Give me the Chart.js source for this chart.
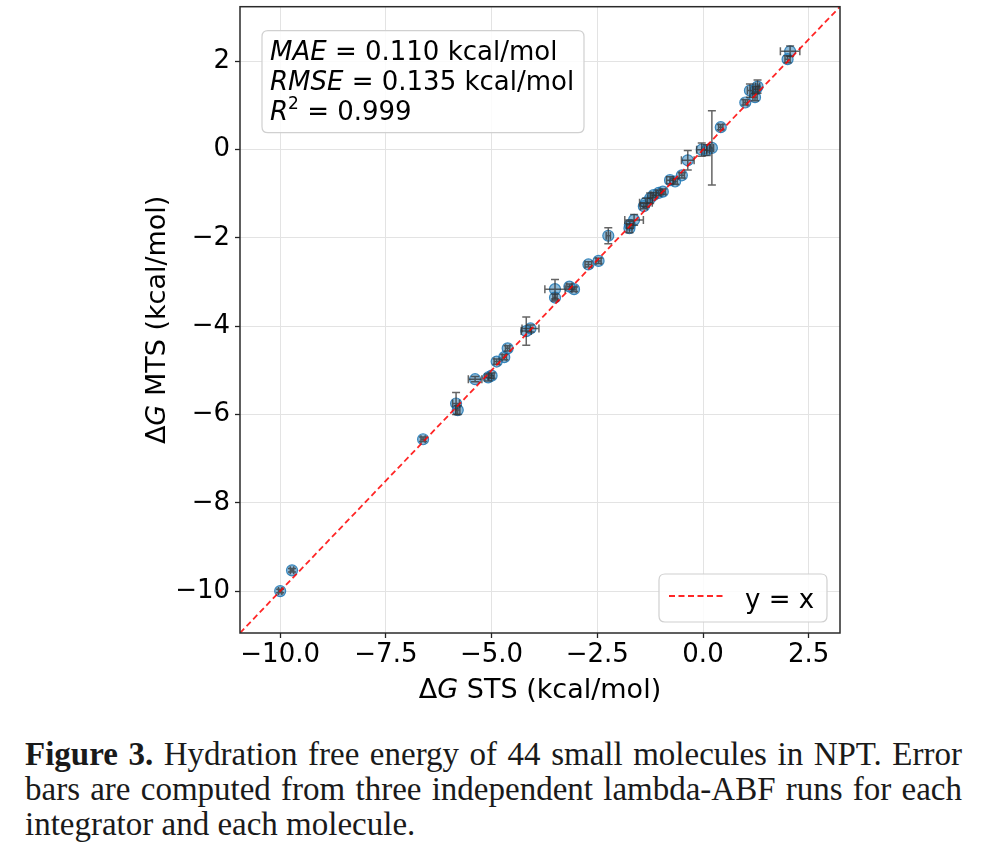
<!DOCTYPE html>
<html><head><meta charset="utf-8">
<script src="https://cdn.jsdelivr.net/npm/chart.js@4.4.0/dist/chart.umd.min.js"></script>
<style>
html,body{margin:0;padding:0;background:#fff;}
#wrap{position:absolute;left:0;top:0;width:989px;height:710px;}
#cap{position:absolute;left:25px;top:737px;width:960px;font-family:'Liberation Serif',serif;font-size:33px;line-height:35px;color:#1a1a1a;}
#cap div{white-space:nowrap;width:max-content;}
</style></head><body>
<div id="wrap"><canvas id="c"></canvas></div>
<div id="cap">
<div class="j"><b>Figure 3.</b> Hydration free energy of 44 small molecules in NPT. Error</div>
<div class="j">bars are computed from three independent lambda-ABF runs for each</div>
<div>integrator and each molecule.</div>
</div>
<script>
// ΔG STS (x) and ΔG MTS (y), kcal/mol, 44 molecules
const stsValues = [-10.00, -9.72, -6.62, -5.84, -5.80, -5.39, -5.08, -5.00, -4.88, -4.70, -4.62, -4.18, -4.08, -3.50, -3.50, -3.16, -3.05, -2.71, -2.47, -2.24, -1.74, -1.73, -1.63, -1.40, -1.35, -1.25, -1.17, -1.05, -0.95, -0.78, -0.66, -0.50, -0.36, -0.03, 0.09, 0.21, 0.42, 1.00, 1.11, 1.23, 1.25, 1.29, 2.00, 2.06];
const mtsValues = [-10.00, -9.53, -6.56, -5.75, -5.90, -5.20, -5.16, -5.12, -4.80, -4.70, -4.50, -4.11, -4.05, -3.16, -3.35, -3.10, -3.16, -2.60, -2.52, -1.95, -1.78, -1.70, -1.59, -1.28, -1.20, -1.10, -1.03, -0.98, -0.95, -0.69, -0.72, -0.58, -0.24, 0.00, -0.01, 0.04, 0.51, 1.07, 1.34, 1.19, 1.37, 1.43, 2.05, 2.23];
const stsErrors = [0.04, 0.04, 0.05, 0.08, 0.05, 0.16, 0.08, 0.06, 0.06, 0.05, 0.05, 0.12, 0.20, 0.24, 0.05, 0.06, 0.05, 0.08, 0.06, 0.05, 0.06, 0.08, 0.22, 0.08, 0.15, 0.06, 0.06, 0.06, 0.06, 0.08, 0.05, 0.06, 0.15, 0.12, 0.06, 0.04, 0.05, 0.05, 0.06, 0.05, 0.06, 0.05, 0.06, 0.23];
const mtsErrors = [0.04, 0.04, 0.05, 0.25, 0.10, 0.06, 0.08, 0.06, 0.06, 0.06, 0.06, 0.32, 0.08, 0.22, 0.08, 0.06, 0.05, 0.06, 0.06, 0.18, 0.10, 0.08, 0.12, 0.06, 0.10, 0.12, 0.06, 0.06, 0.06, 0.08, 0.06, 0.06, 0.22, 0.15, 0.12, 0.84, 0.06, 0.06, 0.15, 0.08, 0.06, 0.15, 0.08, 0.12];
const xTickValues = [-10, -7.5, -5, -2.5, 0, 2.5];
const yTickValues = [-10, -8, -6, -4, -2, 0, 2];
const axisLimits = [-10.95, 3.24];
const statLabels = ['MAE', 'RMSE', 'R'];
const statTexts = [' = 0.110 kcal/mol', ' = 0.135 kcal/mol', ' = 0.999'];
const refLabel = 'y = x';

// justify caption lines to the full text width
function fitCaption() {
  document.querySelectorAll('#cap .j').forEach(el => {
    el.style.wordSpacing = '0px';
    const w = el.getBoundingClientRect().width;
    const n = (el.textContent.trim().match(/\s+/g) || []).length;
    el.style.wordSpacing = ((937 - w) / n) + 'px';
  });
}
fitCaption();
if (document.fonts && document.fonts.ready) document.fonts.ready.then(fitCaption);

const FONT = "'DejaVu Sans', sans-serif";
const minus = s => s.replace('-', '\u2212');

function drawRich(ctx, parts, x, y, align, base) {
  let w = 0;
  const fs = p => (p.italic ? 'italic ' : '') + (p.size || base) + 'px ' + FONT;
  parts.forEach(p => { ctx.font = fs(p); p.w = ctx.measureText(p.t).width; w += p.w; });
  let cx = align === 'center' ? x - w / 2 : x;
  parts.forEach(p => { ctx.font = fs(p); ctx.fillText(p.t, cx, y + (p.dy || 0)); cx += p.w; });
}
function roundRect(ctx, x, y, w, h, r) {
  ctx.beginPath();
  ctx.moveTo(x + r, y); ctx.lineTo(x + w - r, y); ctx.quadraticCurveTo(x + w, y, x + w, y + r);
  ctx.lineTo(x + w, y + h - r); ctx.quadraticCurveTo(x + w, y + h, x + w - r, y + h);
  ctx.lineTo(x + r, y + h); ctx.quadraticCurveTo(x, y + h, x, y + h - r);
  ctx.lineTo(x, y + r); ctx.quadraticCurveTo(x, y, x + r, y); ctx.closePath();
}

const errorBarPlugin = {
  id: 'errorBars',
  afterDatasetDraw(chart, args) {
    if (args.index !== 0) return;
    const ctx = chart.ctx, xs = chart.scales.x, ys = chart.scales.y;
    ctx.save();
    ctx.strokeStyle = 'rgba(50,50,50,0.75)';
    ctx.lineWidth = 1.5;
    const c = 4;
    stsValues.forEach((v, i) => {
      const px = xs.getPixelForValue(v), py = ys.getPixelForValue(mtsValues[i]);
      const x0 = xs.getPixelForValue(v - stsErrors[i]), x1 = xs.getPixelForValue(v + stsErrors[i]);
      const y0 = ys.getPixelForValue(mtsValues[i] - mtsErrors[i]), y1 = ys.getPixelForValue(mtsValues[i] + mtsErrors[i]);
      ctx.beginPath();
      ctx.moveTo(x0, py); ctx.lineTo(x1, py);
      ctx.moveTo(px, y0); ctx.lineTo(px, y1);
      ctx.moveTo(x0, py - c); ctx.lineTo(x0, py + c);
      ctx.moveTo(x1, py - c); ctx.lineTo(x1, py + c);
      ctx.moveTo(px - c, y0); ctx.lineTo(px + c, y0);
      ctx.moveTo(px - c, y1); ctx.lineTo(px + c, y1);
      ctx.stroke();
    });
    ctx.restore();
  }
};

const decorPlugin = {
  id: 'decor',
  afterDraw(chart) {
    const ctx = chart.ctx, a = chart.chartArea;
    ctx.save();
    ctx.strokeStyle = '#2a2a2a'; ctx.lineWidth = 1.5;
    ctx.strokeRect(a.left, a.top, a.right - a.left, a.bottom - a.top);
    ctx.fillStyle = '#000';
    ctx.textBaseline = 'alphabetic';
    // axis titles
    drawRich(ctx, [{t: '\u0394'}, {t: 'G', italic: true}, {t: ' STS (kcal/mol)'}], (a.left + a.right) / 2, 698, 'center', 27);
    ctx.save();
    ctx.translate(165, (a.top + a.bottom) / 2);
    ctx.rotate(-Math.PI / 2);
    drawRich(ctx, [{t: '\u0394'}, {t: 'G', italic: true}, {t: ' MTS (kcal/mol)'}], 0, 0, 'center', 27);
    ctx.restore();
    // stats box
    roundRect(ctx, a.left + 22, a.top + 24, 322, 102, 6);
    ctx.fillStyle = 'rgba(255,255,255,0.85)'; ctx.fill();
    ctx.strokeStyle = '#d0d0d0'; ctx.lineWidth = 1.2; ctx.stroke();
    ctx.fillStyle = '#000';
    const lx = a.left + 30;
    drawRich(ctx, [{t: statLabels[0], italic: true}, {t: statTexts[0]}], lx, a.top + 53, 'left', 26);
    drawRich(ctx, [{t: statLabels[1], italic: true}, {t: statTexts[1]}], lx, a.top + 83, 'left', 26);
    drawRich(ctx, [{t: statLabels[2], italic: true}, {t: '2', size: 17, dy: -11}, {t: statTexts[2]}], lx, a.top + 113, 'left', 26);
    // legend
    const ds = chart.data.datasets[1];
    const bx = a.right - 181, by = a.bottom - 59;
    roundRect(ctx, bx, by, 168, 48, 6);
    ctx.fillStyle = 'rgba(255,255,255,0.85)'; ctx.fill();
    ctx.strokeStyle = '#d0d0d0'; ctx.lineWidth = 1.2; ctx.stroke();
    ctx.beginPath();
    ctx.strokeStyle = ds.borderColor; ctx.lineWidth = 2; ctx.setLineDash(ds.borderDash);
    ctx.moveTo(bx + 10, by + 22); ctx.lineTo(bx + 64, by + 22); ctx.stroke();
    ctx.setLineDash([]);
    ctx.fillStyle = '#000';
    drawRich(ctx, [{t: ds.label}], bx + 86, by + 34, 'left', 26);
    ctx.restore();
  }
};

const pointData = stsValues.map((v, i) => ({x: v, y: mtsValues[i]}));
const lineData = axisLimits.map(v => ({x: v, y: v}));

new Chart(document.getElementById('c'), {
  type: 'scatter',
  data: {
    datasets: [
      {
        label: 'molecules', data: pointData, order: 1,
        pointRadius: 5.5, pointHoverRadius: 5.5, pointBorderWidth: 1.2,
        backgroundColor: 'rgba(31,119,180,0.5)', borderColor: 'rgba(31,119,180,0.85)'
      },
      {
        type: 'line', label: refLabel, data: lineData, order: 0,
        borderColor: 'rgba(255,0,0,0.85)', borderWidth: 1.8, borderDash: [6, 3.5],
        pointRadius: 0, fill: false, tension: 0
      }
    ]
  },
  options: {
    responsive: true, maintainAspectRatio: false, animation: false,
    layout: {padding: {left: 0, right: 149, top: 2, bottom: 0}},
    plugins: {legend: {display: false}, tooltip: {enabled: false}},
    scales: {
      x: {
        type: 'linear', min: axisLimits[0], max: axisLimits[1],
        afterBuildTicks: s => { s.ticks = xTickValues.map(v => ({value: v})); },
        afterFit: s => { s.height = 77; s.paddingLeft = 0; s.paddingRight = 0; },
        ticks: {font: {family: FONT, size: 26}, color: '#000', padding: 2, maxRotation: 0, autoSkip: false,
          callback: v => minus(Number(v).toFixed(1))},
        grid: {color: '#e3e3e3', borderDash: [2, 2], lineWidth: 1, tickColor: '#222', tickLength: 5, tickWidth: 1.3, tickBorderDash: []},
        border: {display: false}
      },
      y: {
        type: 'linear', min: axisLimits[0], max: axisLimits[1],
        afterBuildTicks: s => { s.ticks = yTickValues.map(v => ({value: v})); },
        afterFit: s => { s.width = 240; s.paddingTop = 0; s.paddingBottom = 0; },
        ticks: {font: {family: FONT, size: 26}, color: '#000', padding: 5, autoSkip: false,
          callback: v => minus(String(Math.round(v)))},
        grid: {color: '#e3e3e3', borderDash: [2, 2], lineWidth: 1, tickColor: '#222', tickLength: 5, tickWidth: 1.3, tickBorderDash: []},
        border: {display: false}
      }
    }
  },
  plugins: [errorBarPlugin, decorPlugin]
});
</script>
</body></html>
